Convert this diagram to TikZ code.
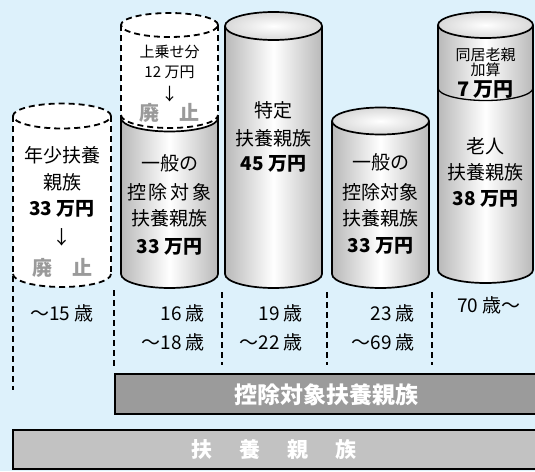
\documentclass[tikz,border=0pt]{standalone}
\usepackage{fontspec}
\setmainfont{Noto Sans CJK JP}
\definecolor{bgblue}{HTML}{DDF1FB}
\definecolor{bardark}{HTML}{9B9B9B}
\definecolor{barlight}{HTML}{C2C2C2}
\definecolor{haishi}{HTML}{9A9A9A}
\newcommand\myfs[1]{\fontsize{#1}{#1}\selectfont}
\begin{document}
\begin{tikzpicture}[x=1pt,y=1pt,
  solidline/.style={line width=1.7pt, draw=black},
  dashline/.style={line width=1.8pt, draw=black, dash pattern=on 6pt off 4pt},
  bodyshade/.style={left color=gray!55, right color=gray!55, middle color=white},
  topshade/.style={inner color=white, outer color=gray!30},
  txt/.style={inner sep=0pt, font=\myfs{19}},
  btxt/.style={inner sep=0pt, font=\myfs{19}\bfseries},
  stxt/.style={inner sep=0pt, font=\myfs{15}},
  htxt/.style={inner sep=0pt, font=\myfs{20}\bfseries, text=haishi},
  agetxt/.style={inner sep=0pt, font=\myfs{19}},
  bartxt/.style={inner sep=0pt, font=\myfs{23}\bfseries, text=white},
]
\useasboundingbox (0,0) rectangle (535,-471);
\fill[bgblue] (0,0) rectangle (535,-471);

% ---------- cylinder 1 (dashed, abolished) ----------
\fill[white] (13,-116) -- (13,-274) arc[start angle=180,end angle=360,x radius=49,y radius=13] -- (111,-116) -- cycle;
\fill[white] (62,-116) ellipse[x radius=49,y radius=12.5];
\draw[dashline] (62,-116) ellipse[x radius=49,y radius=12.5];
\draw[dashline] (13,-116) -- (13,-390);
\draw[dashline] (111,-116) -- (111,-274);
\draw[dashline] (13,-274) arc[start angle=180,end angle=360,x radius=49,y radius=13];

% ---------- cylinder 2 ----------
\fill[white] (121,-25) -- (121,-118) arc[start angle=180,end angle=360,x radius=48.5,y radius=13.5] -- (218,-25) -- cycle;
\fill[white] (169.5,-25) ellipse[x radius=48.5,y radius=12];
\draw[dashline] (169.5,-25) ellipse[x radius=48.5,y radius=12];
\draw[dashline] (121,-25) -- (121,-118);
\draw[dashline] (218,-25) -- (218,-118);
\path[bodyshade] (121,-118) arc[start angle=180,end angle=360,x radius=48.5,y radius=13.5] -- (218,-274) arc[start angle=0,end angle=-180,x radius=48.5,y radius=14] -- cycle;
\draw[dashline] (121,-115) arc[start angle=180,end angle=360,x radius=48.5,y radius=13];
\draw[solidline] (121,-118) arc[start angle=180,end angle=360,x radius=48.5,y radius=13.5];
\draw[solidline] (121,-118) -- (121,-274) arc[start angle=180,end angle=360,x radius=48.5,y radius=14] -- (218,-118);

% ---------- cylinder 3 ----------
\path[bodyshade] (225,-26) -- (225,-274) arc[start angle=180,end angle=360,x radius=48.5,y radius=14] -- (322,-26) -- cycle;
\draw[solidline] (225,-26) -- (225,-274) arc[start angle=180,end angle=360,x radius=48.5,y radius=14] -- (322,-26);
\draw[solidline,topshade] (273.5,-26) ellipse[x radius=48.5,y radius=14];

% ---------- cylinder 4 ----------
\path[bodyshade] (332,-121) -- (332,-274) arc[start angle=180,end angle=360,x radius=48.5,y radius=14] -- (429,-121) -- cycle;
\draw[solidline] (332,-121) -- (332,-274) arc[start angle=180,end angle=360,x radius=48.5,y radius=14] -- (429,-121);
\draw[solidline,topshade] (380.5,-121) ellipse[x radius=48.5,y radius=13.5];

% ---------- cylinder 5 ----------
\path[bodyshade] (438,-25) -- (438,-270) arc[start angle=180,end angle=360,x radius=47.5,y radius=13] -- (533,-25) -- cycle;
\draw[solidline] (438,-25) -- (438,-270) arc[start angle=180,end angle=360,x radius=47.5,y radius=13] -- (533,-25);
\draw[solidline,topshade] (485.5,-25) ellipse[x radius=47.5,y radius=13];
\draw[solidline,line width=1.3pt] (438,-88) arc[start angle=180,end angle=360,x radius=47.5,y radius=12.5];

% ---------- separators ----------
\draw[dashline] (114,-290) -- (114,-367);
\draw[dashline] (222,-292) -- (222,-365);
\draw[dashline] (327,-292) -- (327,-365);
\draw[dashline] (432,-292) -- (432,-365);

% ---------- texts cylinder 1 ----------
\node[txt] (c1a) at (62,-155) {年少扶養};
\node[txt] (c1b) at (62,-182) {親族};
\node[btxt] (c1c) at (62,-209) {33 万円};
\node[txt] (c1d) at (62,-237) {↓};
\node[htxt] (c1e) at (62,-268) {廃　止};

% ---------- texts cylinder 2 ----------
\node[stxt] (c2a) at (169.5,-52) {上乗せ分};
\node[stxt] (c2b) at (169.5,-72) {12 万円};
\node[stxt,font=\myfs{17}] (c2c) at (169.5,-94) {↓};
\node[htxt] (c2d) at (169.5,-113) {廃　止};
\node[txt] (c2e) at (169.5,-163) {一般の};
\node[txt] (c2f) at (169.5,-192) {控\kern3pt 除\kern3pt 対\kern3pt 象};
\node[txt] (c2g) at (169.5,-218) {扶養親族};
\node[btxt] (c2h) at (169.5,-247) {33 万円};

% ---------- texts cylinder 3 ----------
\node[txt] (c3a) at (273.5,-110) {特定};
\node[txt] (c3b) at (273.5,-138) {扶養親族};
\node[btxt] (c3c) at (273.5,-164) {45 万円};

% ---------- texts cylinder 4 ----------
\node[txt] (c4a) at (380.5,-162) {一般の};
\node[txt] (c4b) at (380.5,-192) {控除対象};
\node[txt] (c4c) at (380.5,-218) {扶養親族};
\node[btxt] (c4d) at (380.5,-246) {33 万円};

% ---------- texts cylinder 5 ----------
\node[stxt] (c5a) at (485.5,-55) {同居老親};
\node[stxt] (c5b) at (485.5,-70) {加算};
\node[btxt,font=\myfs{20}\bfseries] (c5c) at (485.5,-90) {7 万円};
\node[txt] (c5d) at (485.5,-146) {老人};
\node[txt] (c5e) at (485.5,-172) {扶養親族};
\node[btxt] (c5f) at (485.5,-199) {38 万円};

% ---------- age labels ----------
\node[agetxt] (g1) at (62,-313) {～15 歳};
\node[agetxt,anchor=east] (g2a) at (205,-313) {16 歳};
\node[agetxt,anchor=east] (g2b) at (205,-342) {～18 歳};
\node[agetxt,anchor=east] (g3a) at (303,-313) {19 歳};
\node[agetxt,anchor=east] (g3b) at (303,-342) {～22 歳};
\node[agetxt,anchor=east] (g4a) at (415,-313) {23 歳};
\node[agetxt,anchor=east] (g4b) at (415,-342) {～69 歳};
\node[agetxt,anchor=west] (g5) at (457,-305) {70 歳～};

% ---------- bars ----------
\draw[line width=1.8pt, fill=bardark] (115,-374) rectangle (545,-414);
\node[bartxt] (bar1) at (326,-395) {控除対象扶養親族};
\draw[line width=1.8pt, fill=barlight] (13,-430) rectangle (545,-469);
\node[bartxt,font=\myfs{21}\bfseries] (bar2) at (274,-450) {扶\hspace{27pt}養\hspace{27pt}親\hspace{27pt}族};
\end{tikzpicture}
\end{document}
